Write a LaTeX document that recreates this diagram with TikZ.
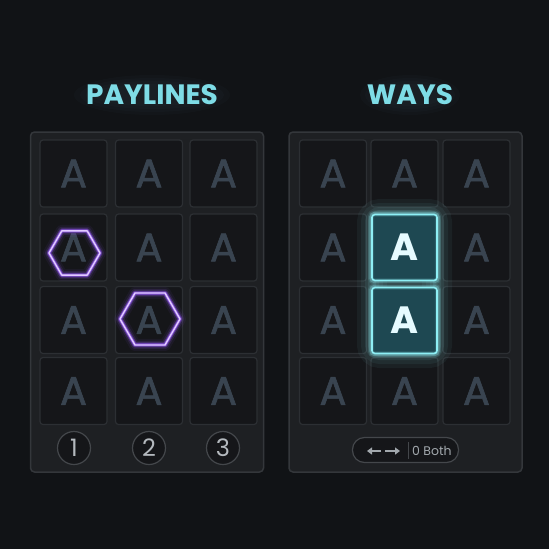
\documentclass[tikz,border=0pt]{standalone}
\usepackage{fontspec}
\setmainfont{Poppins}
\newfontfamily\medfont{Poppins}[FakeBold=1.6]
\usetikzlibrary{arrows.meta}
\definecolor{bg}{HTML}{111316}
\definecolor{panelfill}{HTML}{1E2023}
\definecolor{panelline}{HTML}{34373B}
\definecolor{cellfill}{HTML}{151619}
\definecolor{cellline}{HTML}{2C2F33}
\definecolor{letter}{HTML}{394450}
\definecolor{titlecol}{HTML}{7EDCE6}
\definecolor{hexcol}{HTML}{9B5CFF}
\definecolor{hexcore}{HTML}{E2CCFF}
\definecolor{hlfill}{HTML}{1E4852}
\definecolor{hlline}{HTML}{8EEFF5}
\definecolor{hlletter}{HTML}{E6FBFF}
\definecolor{digit}{HTML}{B4B9BE}
\definecolor{pilltext}{HTML}{A2A8AD}
\definecolor{circline}{HTML}{44474B}
\tikzset{
  titlestyle/.style={text=titlecol, font=\bfseries\fontsize{28}{28}\selectfont, inner sep=0pt},
  panelbox/.style={draw=panelline, fill=panelfill, line width=1.5pt, rounded corners=4pt, minimum width=233pt, minimum height=340pt},
  cellbox/.style={draw=cellline, fill=cellfill, line width=1.2pt, rounded corners=3pt, minimum width=67pt, minimum height=67pt, inner sep=0pt, text=letter, font=\medfont\fontsize{40}{40}\selectfont},
  hlbox/.style={draw=hlline, fill=hlfill, line width=1.6pt, rounded corners=3pt, minimum width=65pt, minimum height=66pt, inner sep=0pt, text=hlletter, font=\bfseries\fontsize{38}{38}\selectfont},
  numcircle/.style={circle, draw=circline, fill=cellfill, line width=1.2pt, minimum size=33pt, inner sep=0pt, text=digit, font=\fontsize{24}{24}\selectfont},
  pillbox/.style={draw=circline, fill=cellfill, line width=1.2pt, rounded corners=12pt, minimum width=106pt, minimum height=25pt},
  arrowline/.style={draw=pilltext, line width=1.8pt, -{Triangle[length=5pt,width=7pt]}}
}
\begin{document}
\begin{tikzpicture}[x=1pt,y=-1pt]
\useasboundingbox (0,0) rectangle (549,549);
\fill[bg] (0,0) rectangle (549,549);
% title glow
\foreach \a/\b in {78/20,72/17,66/14,60/11}{
  \fill[titlecol, opacity=0.018] (152,95) ellipse (\a pt and \b pt);
}
\foreach \a/\b in {50/20,45/17,40/14,35/11}{
  \fill[titlecol, opacity=0.018] (410,95) ellipse (\a pt and \b pt);
}
\node[titlestyle] (t1) at (152,95) {PAYLINES};
\node[titlestyle] (t2) at (410,95) {WAYS};
% panels
\node[panelbox] (p1) at (147,302) {};
\node[panelbox] (p2) at (405.5,302) {};
% left cells
\foreach \c/\x in {1/73.5,2/149,3/223.5}{
  \foreach \r/\y in {1/173.5,2/247.5,3/320,4/391}{
    \node[cellbox] (L\r\c) at (\x,\y) {A};
  }
}
% right cells
\foreach \c/\x in {1/333,2/404.5,3/476.5}{
  \foreach \r/\y in {1/173.5,2/247.5,3/320,4/391}{
    \node[cellbox] (R\r\c) at (\x,\y) {A};
  }
}
% glow behind highlighted cells
\foreach \w/\o in {30/0.05,22/0.06,14/0.08,8/0.1}{
  \draw[hlline, opacity=\o, line width=\w pt, rounded corners=8pt] (372,214) rectangle (437,353);
}
\node[hlbox] (H1) at (404.5,247.5) {A};
\node[hlbox] (H2) at (404.5,320.5) {A};
\foreach \w/\o in {6/0.15,3.5/0.3}{
  \draw[hlline, opacity=\o, line width=\w pt, rounded corners=3pt] (H1.south west) rectangle (H1.north east);
  \draw[hlline, opacity=\o, line width=\w pt, rounded corners=3pt] (H2.south west) rectangle (H2.north east);
}
% hexagons
\coordinate (hx1) at (74.5,253);
\coordinate (hx2) at (150,319);
\foreach \w/\o/\col in {12/0.06/hexcol,8/0.12/hexcol,5/0.3/hexcol,3/0.7/hexcol,1.4/1/hexcore}{
  \draw[\col, opacity=\o, line width=\w pt, line join=round]
    (hx1) +(0:25.5) -- +(60:25.5) -- +(120:25.5) -- +(180:25.5) -- +(240:25.5) -- +(300:25.5) -- cycle;
  \draw[\col, opacity=\o, line width=\w pt, line join=round]
    (hx2) +(0:30) -- +(60:30) -- +(120:30) -- +(180:30) -- +(240:30) -- +(300:30) -- cycle;
}
% number circles
\node[numcircle] (n1) at (74,448) {1};
\node[numcircle] (n2) at (149,448) {2};
\node[numcircle] (n3) at (223,448) {3};
% pill
\node[pillbox] (pill) at (405.5,450) {};
\coordinate (a1s) at (381,451);
\coordinate (a1e) at (367,451);
\coordinate (a2s) at (385,451);
\coordinate (a2e) at (400,451);
\draw[arrowline] (a1s) -- (a1e);
\draw[arrowline] (a2s) -- (a2e);
\coordinate (dv1) at (408,442);
\coordinate (dv2) at (408,459);
\draw[circline, line width=1pt] (dv1) -- (dv2);
\node[text=pilltext, font=\fontsize{12.5}{12.5}\selectfont, anchor=west, inner sep=0pt] (both) at (412,451) {0 Both};
\end{tikzpicture}
\end{document}
